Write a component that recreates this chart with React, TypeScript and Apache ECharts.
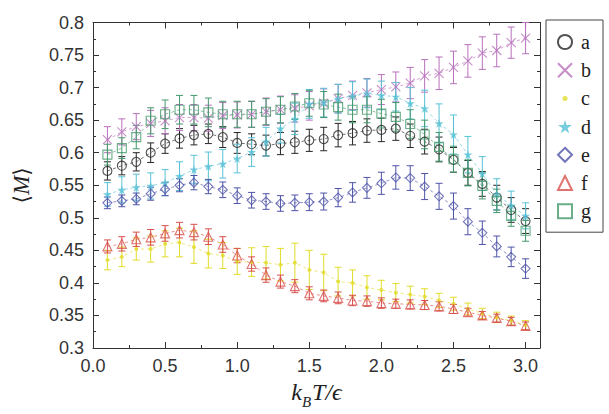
import React, { useEffect, useRef } from "react";
import * as echarts from "echarts";

const xs = [0.1,0.2,0.3,0.4,0.5,0.6,0.7,0.8,0.9,1.0,1.1,1.2,1.3,1.4,1.5,1.6,1.7,1.8,1.9,2.0,2.1,2.2,2.3,2.4,2.5,2.6,2.7,2.8,2.9,3.0];

const aVals = [0.572,0.580,0.586,0.600,0.614,0.622,0.627,0.629,0.624,0.615,0.613,0.611,0.614,0.616,0.619,0.621,0.627,0.630,0.634,0.635,0.637,0.626,0.617,0.605,0.589,0.569,0.552,0.531,0.512,0.495];
const bVals = [0.620,0.632,0.640,0.645,0.649,0.654,0.654,0.653,0.657,0.658,0.659,0.663,0.666,0.668,0.672,0.676,0.683,0.688,0.692,0.697,0.701,0.707,0.718,0.722,0.731,0.741,0.753,0.757,0.769,0.776];
const cVals = [0.435,0.440,0.452,0.452,0.460,0.462,0.455,0.445,0.442,0.433,0.432,0.431,0.428,0.431,0.420,0.416,0.402,0.400,0.393,0.389,0.385,0.382,0.379,0.373,0.368,0.360,0.353,0.347,0.342,0.335];
const dVals = [0.536,0.543,0.547,0.549,0.554,0.564,0.574,0.579,0.583,0.591,0.601,0.617,0.637,0.652,0.675,0.677,0.683,0.687,0.691,0.688,0.686,0.676,0.668,0.645,0.628,0.597,0.568,0.536,0.519,0.503];
const eVals = [0.523,0.526,0.529,0.537,0.544,0.550,0.554,0.548,0.543,0.534,0.527,0.525,0.522,0.523,0.524,0.525,0.531,0.539,0.546,0.553,0.562,0.561,0.548,0.533,0.518,0.494,0.477,0.456,0.440,0.422];
const fVals = [0.456,0.460,0.467,0.470,0.476,0.481,0.478,0.471,0.459,0.442,0.429,0.412,0.402,0.395,0.384,0.380,0.377,0.373,0.372,0.369,0.368,0.367,0.366,0.364,0.360,0.355,0.350,0.346,0.341,0.334];
const gVals = [0.597,0.607,0.624,0.649,0.659,0.666,0.666,0.662,0.659,0.659,0.659,0.663,0.666,0.671,0.676,0.674,0.670,0.666,0.666,0.660,0.655,0.644,0.628,0.609,0.590,0.569,0.549,0.526,0.503,0.480];

const aErr = [0.014,0.014,0.014,0.015,0.015,0.015,0.015,0.015,0.016,0.016,0.016,0.016,0.017,0.017,0.017,0.018,0.018,0.018,0.018,0.018,0.018,0.018,0.019,0.019,0.019,0.019,0.019,0.019,0.019,0.019];
const bErr = [0.02,0.02,0.02,0.02,0.02,0.02,0.02,0.02,0.02,0.02,0.02,0.021,0.021,0.021,0.022,0.022,0.022,0.022,0.022,0.023,0.023,0.024,0.025,0.025,0.025,0.025,0.025,0.025,0.024,0.024];
const cErr = [0.015,0.015,0.017,0.02,0.02,0.022,0.025,0.022,0.02,0.02,0.022,0.025,0.025,0.03,0.03,0.028,0.022,0.02,0.018,0.015,0.014,0.013,0.012,0.011,0.01,0.009,0.008,0.008,0.007,0.007];
const dErr = [0.018,0.02,0.02,0.02,0.02,0.022,0.022,0.022,0.022,0.022,0.022,0.022,0.022,0.024,0.022,0.022,0.022,0.022,0.022,0.022,0.022,0.024,0.028,0.03,0.03,0.028,0.026,0.024,0.022,0.02];
const eErr = [0.009,0.009,0.009,0.01,0.01,0.01,0.011,0.011,0.012,0.012,0.012,0.012,0.012,0.012,0.013,0.013,0.014,0.015,0.016,0.017,0.018,0.019,0.02,0.02,0.02,0.02,0.018,0.016,0.015,0.015];
const fErr = [0.01,0.011,0.011,0.012,0.012,0.012,0.012,0.012,0.012,0.011,0.011,0.011,0.01,0.01,0.01,0.009,0.009,0.008,0.008,0.008,0.007,0.007,0.007,0.007,0.007,0.006,0.006,0.006,0.006,0.006];
const gErr = [0.016,0.016,0.018,0.02,0.022,0.022,0.022,0.022,0.02,0.02,0.02,0.02,0.02,0.02,0.02,0.02,0.02,0.02,0.02,0.022,0.022,0.022,0.022,0.022,0.02,0.02,0.02,0.018,0.016,0.016];

const seriesNames = ["a", "b", "c", "d", "e", "f", "g"];
const xTickLabels = ["0.0", "0.5", "1.0", "1.5", "2.0", "2.5", "3.0"];

const STAR = "path://M50,0 L61,35 L98,35 L68,57 L79,91 L50,70 L21,91 L32,57 L2,35 L39,35 Z";
const CROSS = "path://M0,0 L10,10 M10,0 L0,10";
const SMALL_DOT = "path://M0,0 M14,14 M4.5,7 A2.5,2.5 0 1 1 9.5,7 A2.5,2.5 0 1 1 4.5,7 Z";

const specs = [
  { name: "a", vals: aVals, err: aErr, color: "#262626", symbol: "circle", size: 9, filled: false },
  { name: "b", vals: bVals, err: bErr, color: "#b870bc", symbol: CROSS, size: 9, filled: false },
  { name: "c", vals: cVals, err: cErr, color: "#e2dc2a", symbol: "circle", size: 4, filled: true },
  { name: "d", vals: dVals, err: dErr, color: "#58c2d6", symbol: STAR, size: 9, filled: true },
  { name: "e", vals: eVals, err: eErr, color: "#4f54a8", symbol: "diamond", size: 9, filled: false },
  { name: "f", vals: fVals, err: fErr, color: "#d8504c", symbol: "triangle", size: 9, filled: false },
  { name: "g", vals: gVals, err: gErr, color: "#44996c", symbol: "rect", size: 9, filled: false },
];

const axisColor = "#333";

export default function App() {
  const ref = useRef<HTMLDivElement>(null);
  useEffect(() => {
    if (!ref.current) return;
    const chart = echarts.init(ref.current, null, { renderer: "svg" });

    const series: any[] = [];
    specs.forEach((s) => {
      series.push({
        name: s.name + " line",
        type: "line",
        data: xs.map((x, i) => [x, s.vals[i]]),
        symbol: "none",
        lineStyle: { color: s.color, width: 0.8, type: [3, 3], opacity: 0.8 },
        silent: true,
        z: 1,
      });
      series.push({
        name: s.name + " err",
        type: "custom",
        data: xs.map((x, i) => [x, s.vals[i] - s.err[i], s.vals[i] + s.err[i]]),
        encode: { x: 0, y: [1, 2] },
        z: 2,
        silent: true,
        renderItem: (params: any, api: any) => {
          const x = api.value(0);
          const lo = api.coord([x, api.value(1)]);
          const hi = api.coord([x, api.value(2)]);
          const hw = 3.5;
          const style = { stroke: s.color, lineWidth: 1, fill: null };
          return {
            type: "group",
            children: [
              { type: "line", shape: { x1: lo[0], y1: lo[1], x2: hi[0], y2: hi[1] }, style },
              { type: "line", shape: { x1: lo[0] - hw, y1: lo[1], x2: lo[0] + hw, y2: lo[1] }, style },
              { type: "line", shape: { x1: hi[0] - hw, y1: hi[1], x2: hi[0] + hw, y2: hi[1] }, style },
            ],
          };
        },
      });
    });
    specs.forEach((s) => {
      series.push({
        name: s.name,
        type: "scatter",
        data: xs.map((x, i) => [x, s.vals[i]]),
        symbol: s.symbol,
        symbolSize: s.size,
        z: 3,
        itemStyle: s.filled
          ? { color: s.color, borderWidth: 0 }
          : { color: "rgba(0,0,0,0)", borderColor: s.color, borderWidth: 1.1 },
      });
    });

    const commonX = {
      type: "value",
      min: 0,
      max: 3.1,
      interval: 0.5,
      axisLine: { show: true, onZero: false, lineStyle: { color: axisColor, width: 1 } },
      axisTick: { show: true, inside: true, length: 6, lineStyle: { color: axisColor } },
      minorTick: { show: true, splitNumber: 2, length: 3, lineStyle: { color: axisColor } },
      splitLine: { show: false },
    };
    const commonY = {
      type: "value",
      min: 0.3,
      max: 0.8,
      interval: 0.05,
      axisLine: { show: true, onZero: false, lineStyle: { color: axisColor, width: 1 } },
      axisTick: { show: true, inside: true, length: 6, lineStyle: { color: axisColor } },
      minorTick: { show: true, splitNumber: 2, length: 3, lineStyle: { color: axisColor } },
      splitLine: { show: false },
    };

    chart.setOption({
      animation: false,
      backgroundColor: "#ffffff",
      grid: { left: 93, right: 69, top: 22.5, bottom: 57 },
      legend: {
        data: seriesNames.map((n) => (n === "c" ? { name: n, icon: SMALL_DOT } : { name: n })),
        orient: "vertical",
        left: 546,
        top: 20,
        itemWidth: 14,
        itemHeight: 14,
        itemGap: 8.2,
        padding: [12, 12, 11, 11],
        borderColor: "#444",
        borderWidth: 1,
        selectedMode: false,
        textStyle: {
          fontFamily: "Liberation Serif",
          fontSize: 20,
          color: "#222",
          padding: [0, 0, 0, 4],
        },
      },
      xAxis: [
        {
          ...commonX,
          position: "bottom",
          axisLabel: {
            show: true,
            margin: 9,
            fontFamily: "Liberation Sans",
            fontSize: 18,
            color: "#333",
            showMaxLabel: false,
            formatter: (v: number) => {
              const k = Math.round(v / 0.5);
              return Math.abs(v - k * 0.5) < 1e-6 && k < xTickLabels.length ? xTickLabels[k] : "";
            },
          },
          name: "{i|k}{s|B}{i|T/ϵ}",
          nameLocation: "middle",
          nameGap: 32,
          nameTextStyle: {
            rich: {
              i: { fontFamily: "Liberation Serif", fontStyle: "italic", fontSize: 24, color: "#222", lineHeight: 28, verticalAlign: "top" },
              s: { fontFamily: "Liberation Serif", fontStyle: "italic", fontSize: 15, color: "#222", lineHeight: 15, padding: [14, 1, 0, 0], verticalAlign: "top" },
            },
          },
        },
        {
          ...commonX,
          position: "top",
          axisLabel: { show: false },
        },
      ],
      yAxis: [
        {
          ...commonY,
          position: "left",
          axisLabel: {
            show: true,
            margin: 9,
            fontFamily: "Liberation Sans",
            fontSize: 18,
            color: "#333",
          },
          name: "{b|⟨}{m|M}{b|⟩}",
          nameLocation: "middle",
          nameGap: 60,
          nameTextStyle: {
            rich: {
              b: { fontFamily: "DejaVu Serif", fontSize: 22, color: "#222" },
              m: { fontFamily: "Liberation Serif", fontStyle: "italic", fontSize: 23, color: "#222" },
            },
          },
        },
        {
          ...commonY,
          position: "right",
          axisLabel: { show: false },
        },
      ],
      series,
    });
    return () => chart.dispose();
  }, []);
  return (
    <div
      ref={ref}
      style={{ position: "absolute", left: 0, top: 0, width: 609, height: 414 }}
    />
  );
}
